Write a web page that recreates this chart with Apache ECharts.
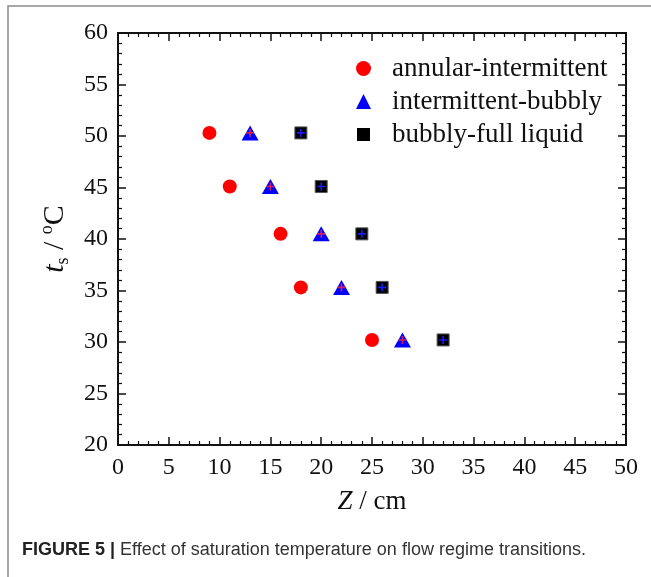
<!DOCTYPE html>
<html>
<head>
<meta charset="utf-8">
<script src="https://cdn.jsdelivr.net/npm/echarts@6/dist/echarts.min.js"></script>
<style>
  html, body { margin: 0; padding: 0; background: #fff; }
  #chart { width: 651px; height: 577px; }
</style>
</head>
<body>
<div id="chart"></div>
<script>
// data
const tempLevels = [50.3, 45.1, 40.5, 35.3, 30.2]
const annularIntermittent = [9, 11, 16, 18, 25]
const intermittentBubbly = [13, 15, 20, 22, 28]
const bubblyFullLiquid = [18, 20, 24, 26, 32]
const seriesNames = ['annular-intermittent', 'intermittent-bubbly', 'bubbly-full liquid']
const xTicks = [0, 5, 10, 15, 20, 25, 30, 35, 40, 45, 50]
const yTicks = [20, 25, 30, 35, 40, 45, 50, 55, 60]

const pairs = (zs) => zs.map((z, i) => [z, tempLevels[i]])

const serif = 'Liberation Serif'
const cross = 'path://M4,0L6,0L6,4L10,4L10,6L6,6L6,10L4,10L4,6L0,6L0,4L4,4Z'

const mainAxis = (t) => ({
  type: 'value',
  min: t[0],
  max: t[t.length - 1],
  interval: 5,
  axisLine: {onZero: false, lineStyle: {color: '#111', width: 2}},
  axisTick: {inside: true, length: 8, lineStyle: {color: '#111', width: 1.5}},
  minorTick: {show: true, splitNumber: 5, length: 4, lineStyle: {color: '#111', width: 1.2}},
  splitLine: {show: false},
  axisLabel: {fontFamily: serif, fontSize: 24, color: '#111'}
})
const mirrorAxis = (t, pos) => ({
  ...mainAxis(t),
  position: pos,
  axisLabel: {show: false}
})

let myChart = echarts.init(document.getElementById('chart'))
let option = {
  animation: false,
  grid: {left: 118, top: 33, width: 508, height: 412},
  xAxis: [
    {
      ...mainAxis(xTicks),
      position: 'bottom',
      axisLabel: {fontFamily: serif, fontSize: 24, color: '#111', margin: 11},
      name: '{i|Z}{n| / cm}',
      nameLocation: 'middle',
      nameGap: 43,
      nameTextStyle: {
        rich: {
          i: {fontFamily: serif, fontStyle: 'italic', fontSize: 27, color: '#111'},
          n: {fontFamily: serif, fontSize: 27, color: '#111'}
        }
      }
    },
    mirrorAxis(xTicks, 'top')
  ],
  yAxis: [
    {
      ...mainAxis(yTicks),
      position: 'left',
      axisLabel: {fontFamily: serif, fontSize: 24, color: '#111', margin: 10},
      name: '{i|t}{sub|s}{n| / }{sup|o}{n|C}',
      nameLocation: 'middle',
      nameRotate: 90,
      nameGap: 46,
      nameTextStyle: {
        rich: {
          i: {fontFamily: serif, fontStyle: 'italic', fontSize: 30, color: '#111', lineHeight: 34},
          sub: {fontFamily: serif, fontSize: 18, color: '#111', lineHeight: 34, verticalAlign: 'bottom', padding: [12, 0, 0, 0]},
          sup: {fontFamily: serif, fontSize: 18, color: '#111', lineHeight: 34, verticalAlign: 'top', padding: [0, 0, 12, 0]},
          n: {fontFamily: serif, fontSize: 30, color: '#111', lineHeight: 34}
        }
      }
    },
    mirrorAxis(yTicks, 'right')
  ],
  legend: {
    orient: 'vertical',
    left: 350,
    top: 50,
    itemGap: 6,
    itemWidth: 15,
    itemHeight: 15,
    textStyle: {fontFamily: serif, fontSize: 27, color: '#111', padding: [0, 0, 0, 16]},
    data: [
      {name: seriesNames[0], icon: 'circle'},
      {name: seriesNames[1], icon: 'triangle'},
      {name: seriesNames[2], icon: 'rect', itemStyle: {borderWidth: 2, borderColor: '#fff'}}
    ]
  },
  graphic: [
    {
      type: 'rect',
      shape: {x: 8, y: 6, width: 700, height: 620},
      style: {fill: 'none', stroke: '#8a8a8a', lineWidth: 1.5},
      silent: true
    },
    {
      type: 'text',
      left: 22,
      top: 541,
      style: {
        text: '{b|FIGURE 5 | }{n|Effect of saturation temperature on flow regime transitions.}',
        rich: {
          b: {fontFamily: 'Liberation Sans', fontWeight: 'bold', fontSize: 18, fill: '#222'},
          n: {fontFamily: 'Liberation Sans', fontSize: 18, fill: '#333'}
        }
      }
    }
  ],
  series: [
    {
      name: seriesNames[0],
      type: 'scatter',
      symbol: 'circle',
      symbolSize: 14,
      itemStyle: {color: '#ff0000', opacity: 1},
      data: pairs(annularIntermittent)
    },
    {
      name: seriesNames[1],
      type: 'scatter',
      symbol: 'triangle',
      symbolSize: [17, 15],
      itemStyle: {color: '#0000ff', opacity: 1},
      data: pairs(intermittentBubbly)
    },
    {
      name: seriesNames[2],
      type: 'scatter',
      symbol: 'rect',
      symbolSize: 12,
      itemStyle: {color: '#000000', opacity: 1, borderColor: '#555', borderWidth: 1},
      data: pairs(bubblyFullLiquid)
    },
    {
      type: 'scatter',
      symbol: cross,
      symbolSize: 8,
      silent: true,
      itemStyle: {color: '#d0205a', opacity: 1},
      data: pairs(intermittentBubbly)
    },
    {
      type: 'scatter',
      symbol: cross,
      symbolSize: 8,
      silent: true,
      itemStyle: {color: '#1a1aff', opacity: 1},
      data: pairs(bubblyFullLiquid)
    }
  ]
}
myChart.setOption(option)
</script>
</body>
</html>
